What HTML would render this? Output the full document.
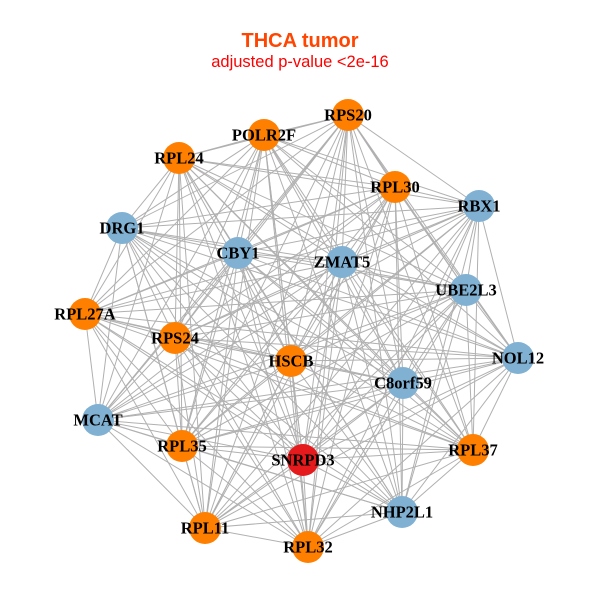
<!DOCTYPE html>
<html><head><meta charset="utf-8"><style>
html,body{margin:0;padding:0;background:#fff;}
svg{display:block}
.l{font-family:"Liberation Serif",serif;font-weight:bold;font-size:16.5px;fill:#000;text-anchor:middle;dominant-baseline:central}
</style></head><body>
<svg id="s" width="600" height="600" viewBox="0 0 600 600">
<rect width="600" height="600" fill="#fff"/>
<text x="300" y="47" text-anchor="middle" font-family="Liberation Sans,sans-serif" font-weight="bold" font-size="20" fill="#FF4500">THCA tumor</text>
<text x="300" y="67" text-anchor="middle" font-family="Liberation Sans,sans-serif" font-size="16.5" fill="#FF0000">adjusted p-value &lt;2e-16</text>
<g id="e" stroke="#b0b0b0" stroke-width="1"></g>
<g id="n">
<circle cx="348" cy="115" r="16" fill="#FF7F00"/><text class="l" x="348" y="115">RPS20</text>
<circle cx="264" cy="135" r="16" fill="#FF7F00"/><text class="l" x="264" y="135">POLR2F</text>
<circle cx="179" cy="158" r="16" fill="#FF7F00"/><text class="l" x="179" y="158">RPL24</text>
<circle cx="395" cy="187" r="16" fill="#FF7F00"/><text class="l" x="395" y="187">RPL30</text>
<circle cx="479" cy="206" r="16" fill="#80B1D3"/><text class="l" x="479" y="206">RBX1</text>
<circle cx="122" cy="228" r="16" fill="#80B1D3"/><text class="l" x="122" y="228">DRG1</text>
<circle cx="238" cy="253" r="16" fill="#80B1D3"/><text class="l" x="238" y="253">CBY1</text>
<circle cx="342" cy="262" r="16" fill="#80B1D3"/><text class="l" x="342" y="262">ZMAT5</text>
<circle cx="466" cy="290" r="16" fill="#80B1D3"/><text class="l" x="466" y="290">UBE2L3</text>
<circle cx="85" cy="314" r="16" fill="#FF7F00"/><text class="l" x="85" y="314">RPL27A</text>
<circle cx="175" cy="338" r="16" fill="#FF7F00"/><text class="l" x="175" y="338">RPS24</text>
<circle cx="291" cy="361" r="16" fill="#FF7F00"/><text class="l" x="291" y="361">HSCB</text>
<circle cx="518" cy="358" r="16" fill="#80B1D3"/><text class="l" x="518" y="358">NOL12</text>
<circle cx="403" cy="383" r="16" fill="#80B1D3"/><text class="l" x="403" y="383">C8orf59</text>
<circle cx="98" cy="420" r="16" fill="#80B1D3"/><text class="l" x="98" y="420">MCAT</text>
<circle cx="182" cy="446" r="16" fill="#FF7F00"/><text class="l" x="182" y="446">RPL35</text>
<circle cx="303" cy="460" r="16" fill="#E41A1C"/><text class="l" x="303" y="460">SNRPD3</text>
<circle cx="473" cy="450" r="16" fill="#FF7F00"/><text class="l" x="473" y="450">RPL37</text>
<circle cx="402" cy="512" r="16" fill="#80B1D3"/><text class="l" x="402" y="512">NHP2L1</text>
<circle cx="205" cy="528" r="16" fill="#FF7F00"/><text class="l" x="205" y="528">RPL11</text>
<circle cx="308" cy="547" r="16" fill="#FF7F00"/><text class="l" x="308" y="547">RPL32</text>
</g>
</svg>
<script>
var cs=document.querySelectorAll('#n circle'),p=[];
cs.forEach(function(c){p.push([+c.getAttribute('cx'),+c.getAttribute('cy')]);});
var g=document.getElementById('e'),h='';
for(var i=0;i<p.length;i++)for(var j=i+1;j<p.length;j++){
h+='<line x1="'+p[i][0]+'" y1="'+p[i][1]+'" x2="'+p[j][0]+'" y2="'+p[j][1]+'"/>';}
g.innerHTML=h;
</script>
</body></html>
